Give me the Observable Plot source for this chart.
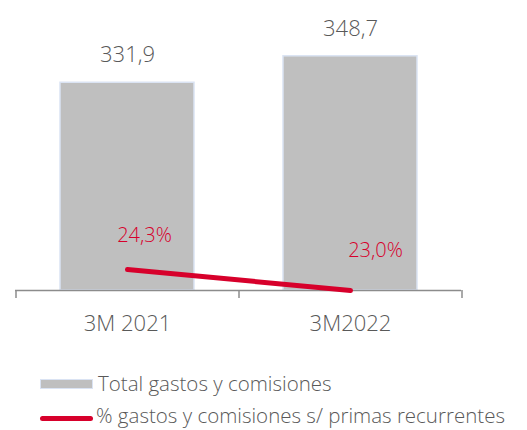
<!DOCTYPE html>
<html>
<head>
<meta charset="utf-8">
<script src="https://cdn.jsdelivr.net/npm/d3@7"></script>
<script src="https://cdn.jsdelivr.net/npm/@observablehq/plot@0.6"></script>
<style>
  body { margin: 0; background: #fff; font-family: "Open Sans", sans-serif; font-weight: 300; }
  #wrap { position: relative; width: 527px; height: 430px; }
  #wrap svg { position: absolute; left: 0; top: 0; }
  .leg { position: absolute; left: 40px; display: flex; align-items: center; font-size: 20.5px; line-height: 21px; color: #595959; white-space: nowrap; }
  .sw-bar { width: 51px; height: 8px; background: #bfbfbf; border: 1px solid #dae3f3; margin-right: 5px; }
  .sw-line { width: 53px; height: 5px; background: #d7002b; border-radius: 3px; margin-right: 3px; position: relative; top: 3px; }
</style>
</head>
<body>
<div id="wrap"></div>
<script>
const categories = ["3M 2021", "3M2022"];
const totals = [331.9, 348.7];
const totalLabels = ["331,9", "348,7"];
const ratios = [24.3, 23.0];
const ratioLabels = ["24,3%", "23,0%"];
const legendLabels = ["Total gastos y comisiones", "% gastos y comisiones s/ primas recurrentes"];

const bars = categories.map((c, i) => ({cat: c, value: totals[i], label: totalLabels[i]}));
const line = categories.map((c, i) => ({cat: c, value: ratios[i], label: ratioLabels[i]}));

const W = 527, H = 345;
const common = {
  width: W, height: H,
  marginLeft: 15, marginRight: 66, marginTop: 38, marginBottom: 55,
  style: {fontFamily: "'Open Sans', sans-serif", fontWeight: 300, background: "transparent", overflow: "visible"},
  x: {domain: categories, paddingInner: 0.4, paddingOuter: 0.2, axis: null}
};
const halfStep = 111.5;

const main = Plot.plot({
  ...common,
  y: {domain: [200, 360], axis: null},
  marks: [
    Plot.barY(bars, {x: "cat", y1: 200, y2: "value", fill: "#bfbfbf", stroke: "#dae3f3", strokeWidth: 1.5}),
    Plot.text(bars, {x: "cat", y: "value", text: "label", dy: -27.5, fontSize: 22, fill: "#595959"}),
    Plot.ruleY([200], {stroke: "#8c8c8c", strokeWidth: 1.5}),
    Plot.ruleX(categories, {x: d => d, y1: 200, y2: 200, insetBottom: -8, dx: -halfStep, stroke: "#8c8c8c", strokeWidth: 1.5}),
    Plot.ruleX(categories.slice(-1), {x: d => d, y1: 200, y2: 200, insetBottom: -8, dx: halfStep, stroke: "#8c8c8c", strokeWidth: 1.5}),
    Plot.text(categories, {x: d => d, y: 200, text: d => d, dy: 33, fontSize: 22, fill: "#595959"})
  ]
});

const sec = Plot.plot({
  ...common,
  y: {domain: [23.0, 38.6], axis: null},
  marks: [
    Plot.line(line, {x: "cat", y: "value", stroke: "#d7002b", strokeWidth: 5, strokeLinecap: "round"}),
    Plot.text(line.slice(0, 1), {x: "cat", y: "value", text: "label", dx: 17, dy: -34, fontSize: 20, fill: "#d7002b"}),
    Plot.text(line.slice(1), {x: "cat", y: "value", text: "label", dx: 25, dy: -40, fontSize: 20, fill: "#d7002b"})
  ]
});

const wrap = document.getElementById("wrap");
wrap.appendChild(main);
wrap.appendChild(sec);

const l1 = document.createElement("div");
l1.className = "leg"; l1.style.top = "373px";
l1.innerHTML = '<span class="sw-bar"></span><span></span>';
l1.lastChild.textContent = legendLabels[0];
const l2 = document.createElement("div");
l2.className = "leg"; l2.style.top = "405px";
l2.innerHTML = '<span class="sw-line"></span><span></span>';
l2.lastChild.textContent = legendLabels[1];
wrap.appendChild(l1);
wrap.appendChild(l2);
</script>
</body>
</html>
